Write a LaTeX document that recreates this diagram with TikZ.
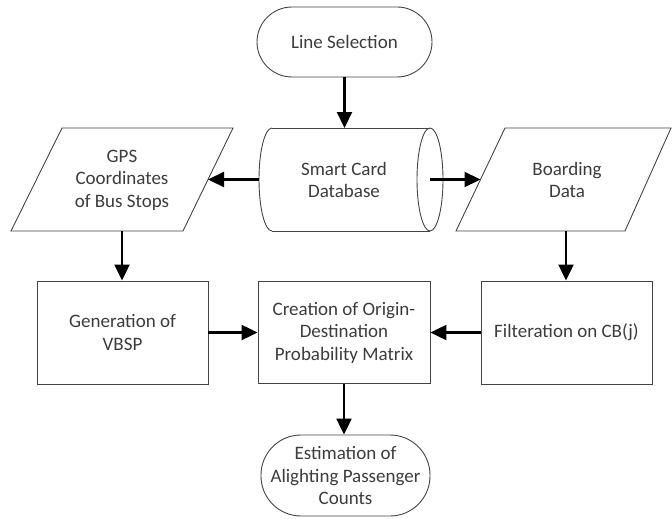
\documentclass[tikz,border=0pt]{standalone}
\usepackage{fontspec}
\setmainfont{Carlito}
\usetikzlibrary{arrows.meta}
\definecolor{outlinecol}{HTML}{444444}
\definecolor{textcol}{HTML}{3C3C3C}
\begin{document}
\begin{tikzpicture}[x=1pt,y=-1pt,
  outl/.style={draw=outlinecol, line width=0.9pt},
  txt/.style={text=textcol, font=\fontsize{19}{22.5}\selectfont, align=center, inner sep=0pt},
  box/.style={outl, txt, rectangle, minimum width=171pt, minimum height=103pt},
  term/.style={outl, txt, rectangle},
  arr/.style={-{Triangle[length=16pt,width=15pt]}, line width=2.2pt, black}]
\useasboundingbox (0,0) rectangle (672,519);

% terminals
\node[term, minimum width=175pt, minimum height=70pt, rounded corners=35pt] (ls) at (344.5,42) {Line Selection};
\node[term, minimum width=169pt, minimum height=81pt, rounded corners=40pt] (est) at (345.5,475.5) {Estimation of\\Alighting Passenger\\Counts};

% cylinder (smart card database)
\draw[outl] (272,128) -- (430,128);
\draw[outl] (272,231) -- (430,231);
\draw[outl] (272,128) arc[start angle=-90, end angle=-270, x radius=13, y radius=51.5];
\draw[outl] (430,179.5) ellipse[x radius=13, y radius=51.5];
\node[txt] (dbtext) at (344,180) {Smart Card\\Database};
\coordinate (dbT) at (345,128);
\coordinate (dbL) at (259,179.5);
\coordinate (dbR) at (430,179.5);

% parallelograms
\draw[outl] (62,128) -- (233,128) -- (183,231) -- (11,231) -- cycle;
\node[txt] (gpstext) at (122,180) {GPS\\Coordinates\\of Bus Stops};
\coordinate (gpsR) at (208,179.5);
\coordinate (gpsB) at (122,231);

\draw[outl] (505,128) -- (671,128) -- (625,231) -- (456,231) -- cycle;
\node[txt] (bdtext) at (567,180) {Boarding\\Data};
\coordinate (bdL) at (480.5,179.5);
\coordinate (bdB) at (566,231);

% process boxes
\node[box] (gen) at (122.5,332.5) {Generation of\\VBSP};
\node[box, minimum width=172pt, minimum height=102pt] (cre) at (344,332.5) {Creation of Origin-\\Destination\\Probability Matrix};
\node[box] (fil) at (566.5,332.5) {Filteration on CB(j)};

% connectors
\draw[arr] (ls.south) -- (ls.south |- dbT);
\draw[arr] (dbL) -- (gpsR);
\draw[arr] (dbR) -- (bdL);
\draw[arr] (gpsB) -- (gpsB |- gen.north);
\draw[arr] (bdB) -- (bdB |- fil.north);
\draw[arr] (gen.east) -- (cre.west);
\draw[arr] (fil.west) -- (cre.east);
\draw[arr] (cre.south) -- (cre.south |- est.north);
\end{tikzpicture}
\end{document}
